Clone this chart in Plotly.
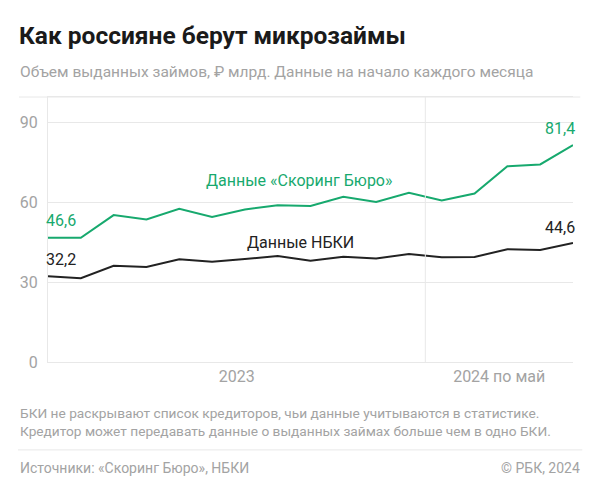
import plotly.graph_objects as go

# ---- data ----
months = list(range(17))  # Jan 2023 .. May 2024
scoring = [46.6, 46.6, 55.1, 53.5, 57.5, 54.4, 57.2, 58.8, 58.5, 62.0, 60.0, 63.5, 60.6, 63.2, 73.4, 74.1, 81.4]
nbki = [32.2, 31.4, 36.1, 35.6, 38.5, 37.6, 38.6, 39.8, 38.0, 39.5, 38.8, 40.5, 39.3, 39.4, 42.3, 42.0, 44.6]
year_ticks = [5.75, 13.75]
year_labels = ["2023", "2024 по май"]
y_ticks = [0, 30, 60, 90]
y_tick_labels = ["0", "30", "60", "90"]
year_boundary = 11.5

GREEN = "#17a96e"
DARK = "#222222"
GRAY = "#a3a3a3"
GRID = "#e8e8e8"
FONT = "Roboto"

W, H = 600, 496
L, R, T, B = 48, 572.7, 96.7, 362

def px(x):
    return (x - L) / (R - L)

def py(y):
    return (B - y) / (B - T)

fig = go.Figure()
fig.add_trace(go.Scatter(x=months, y=scoring, mode="lines",
                         line=dict(color=GREEN, width=2), hoverinfo="skip"))
fig.add_trace(go.Scatter(x=months, y=nbki, mode="lines",
                         line=dict(color=DARK, width=2), hoverinfo="skip"))

ann = []
# value labels
ann.append(dict(x=months[0], y=scoring[0], text="46,6", xanchor="left", yanchor="middle",
                xshift=-4, yshift=17, font=dict(color=GREEN, size=16)))
ann.append(dict(x=months[0], y=nbki[0], text="32,2", xanchor="left", yanchor="middle",
                xshift=-4, yshift=17, font=dict(color=DARK, size=16)))
ann.append(dict(x=months[-1], y=scoring[-1], text="81,4", xanchor="right", yanchor="middle",
                xshift=4, yshift=16, font=dict(color=GREEN, size=16)))
ann.append(dict(x=months[-1], y=nbki[-1], text="44,6", xanchor="right", yanchor="middle",
                xshift=4, yshift=16, font=dict(color=DARK, size=16)))
# series labels
ann.append(dict(x=7.66, y=68.2, text="Данные «Скоринг Бюро»", xanchor="center", yanchor="middle",
                font=dict(color=GREEN, size=16)))
ann.append(dict(x=7.7, y=44.7, text="Данные НБКИ", xanchor="center", yanchor="middle",
                font=dict(color=DARK, size=16)))
for a in ann:
    a.update(xref="x", yref="y", showarrow=False)

# titles / footer in paper coords
def pa(text, x, y, size, color, xanchor="left", bold=False):
    return dict(text=f"<b>{text}</b>" if bold else text, xref="paper", yref="paper",
                x=px(x), y=py(y), xanchor=xanchor, yanchor="middle", showarrow=False,
                font=dict(size=size, color=color, family=FONT))

ann.append(pa("Как россияне берут микрозаймы", 17, 35, 24.5, "#1a1a1a", bold=True))
ann.append(pa("Объем выданных займов, ₽ млрд. Данные на начало каждого месяца", 18, 72, 15.5, GRAY))
ann.append(pa("БКИ не раскрывают список кредиторов, чьи данные учитываются в статистике.", 18, 413, 13.7, GRAY))
ann.append(pa("Кредитор может передавать данные о выданных займах больше чем в одно БКИ.", 18, 431, 13.7, GRAY))
ann.append(pa("Источники: «Скоринг Бюро», НБКИ", 18, 468, 14, GRAY))
ann.append(pa("© РБК, 2024", 582, 468, 14, GRAY, xanchor="right"))

shapes = [
    dict(type="line", xref="paper", yref="paper", x0=px(19), x1=px(580), y0=py(T), y1=py(T),
         line=dict(color=GRID, width=1)),
    dict(type="line", xref="x", yref="paper", x0=year_boundary, x1=year_boundary, y0=0, y1=1,
         line=dict(color=GRID, width=1)),
    dict(type="line", xref="paper", yref="paper", x0=px(18), x1=px(582), y0=py(450), y1=py(450),
         line=dict(color=GRID, width=1)),
]

fig.update_layout(
    width=W, height=H,
    margin=dict(l=L, r=W - R, t=T, b=H - B, pad=0),
    paper_bgcolor="white", plot_bgcolor="white",
    showlegend=False,
    font=dict(family=FONT, color=GRAY),
    annotations=ann, shapes=shapes,
    xaxis=dict(range=[0, 16], tickvals=year_ticks, ticktext=year_labels,
               showgrid=False, zeroline=False, showline=True, linecolor=GRID, linewidth=1,
               mirror=True, ticks="", tickfont=dict(size=16, color=GRAY, family=FONT),
               fixedrange=True),
    yaxis=dict(range=[0, 99.4], tickvals=y_ticks, ticktext=y_tick_labels,
               showgrid=True, gridcolor=GRID, gridwidth=1, zeroline=False,
               showline=True, linecolor=GRID, linewidth=1, ticks="",
               ticklabelstandoff=6,
               tickfont=dict(size=16, color=GRAY, family=FONT), fixedrange=True),
)
fig.write_html("out.html", config={"displayModeBar": False},
               post_script="document.body.style.margin='0';document.body.style.padding='0';")
